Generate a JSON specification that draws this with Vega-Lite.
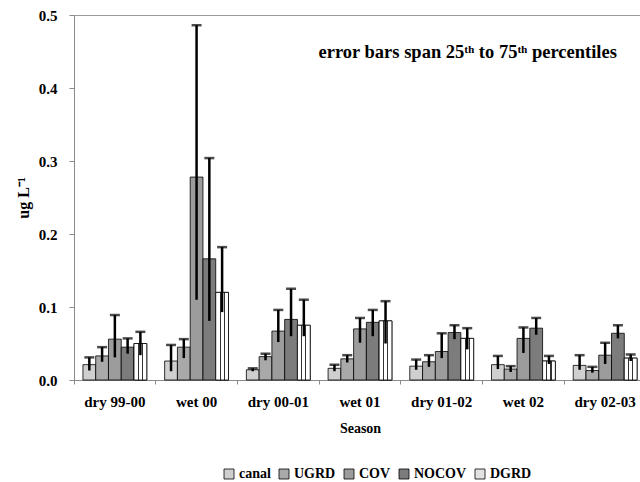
{
  "$schema": "https://vega.github.io/schema/vega-lite/v6.json",
  "width": 572,
  "height": 365,
  "padding": {"left": 15, "top": 8, "right": 0, "bottom": 0},
  "background": "white",
  "config": {
    "font": "Liberation Serif",
    "view": {"stroke": "#9a9a9a", "strokeWidth": 1},
    "axis": {
      "labelFont": "Liberation Serif",
      "titleFont": "Liberation Serif",
      "labelFontWeight": "bold",
      "titleFontWeight": "bold",
      "labelColor": "black",
      "titleColor": "black",
      "domainColor": "#8a8a8a",
      "tickColor": "#8a8a8a",
      "grid": false
    }
  },
  "datasets": {
    "vals": [
      {"season": "dry 99-00", "site": "canal", "median": 0.021, "q25": 0.013, "q75": 0.031},
      {"season": "dry 99-00", "site": "UGRD", "median": 0.033, "q25": 0.025, "q75": 0.045},
      {"season": "dry 99-00", "site": "COV", "median": 0.056, "q25": 0.031, "q75": 0.089},
      {"season": "dry 99-00", "site": "NOCOV", "median": 0.045, "q25": 0.036, "q75": 0.057},
      {"season": "dry 99-00", "site": "DGRD", "median": 0.05, "q25": 0.034, "q75": 0.066},
      {"season": "wet 00", "site": "canal", "median": 0.026, "q25": 0.012, "q75": 0.048},
      {"season": "wet 00", "site": "UGRD", "median": 0.045, "q25": 0.03, "q75": 0.056},
      {"season": "wet 00", "site": "COV", "median": 0.278, "q25": 0.11, "q75": 0.486},
      {"season": "wet 00", "site": "NOCOV", "median": 0.166, "q25": 0.081, "q75": 0.304},
      {"season": "wet 00", "site": "DGRD", "median": 0.12, "q25": 0.093, "q75": 0.182},
      {"season": "dry 00-01", "site": "canal", "median": 0.014, "q25": 0.012, "q75": 0.016},
      {"season": "dry 00-01", "site": "UGRD", "median": 0.032, "q25": 0.027, "q75": 0.036},
      {"season": "dry 00-01", "site": "COV", "median": 0.067, "q25": 0.052, "q75": 0.096},
      {"season": "dry 00-01", "site": "NOCOV", "median": 0.083, "q25": 0.06, "q75": 0.125},
      {"season": "dry 00-01", "site": "DGRD", "median": 0.075, "q25": 0.06, "q75": 0.11},
      {"season": "wet 01", "site": "canal", "median": 0.016, "q25": 0.012, "q75": 0.021},
      {"season": "wet 01", "site": "UGRD", "median": 0.029, "q25": 0.024, "q75": 0.034},
      {"season": "wet 01", "site": "COV", "median": 0.07, "q25": 0.051, "q75": 0.085},
      {"season": "wet 01", "site": "NOCOV", "median": 0.079, "q25": 0.06, "q75": 0.096},
      {"season": "wet 01", "site": "DGRD", "median": 0.081, "q25": 0.05, "q75": 0.108},
      {"season": "dry 01-02", "site": "canal", "median": 0.019, "q25": 0.014, "q75": 0.028},
      {"season": "dry 01-02", "site": "UGRD", "median": 0.025, "q25": 0.018, "q75": 0.034},
      {"season": "dry 01-02", "site": "COV", "median": 0.039, "q25": 0.03, "q75": 0.064},
      {"season": "dry 01-02", "site": "NOCOV", "median": 0.065, "q25": 0.056, "q75": 0.075},
      {"season": "dry 01-02", "site": "DGRD", "median": 0.057, "q25": 0.042, "q75": 0.071},
      {"season": "wet 02", "site": "canal", "median": 0.021, "q25": 0.015, "q75": 0.033},
      {"season": "wet 02", "site": "UGRD", "median": 0.015, "q25": 0.011, "q75": 0.019},
      {"season": "wet 02", "site": "COV", "median": 0.057, "q25": 0.037, "q75": 0.072},
      {"season": "wet 02", "site": "NOCOV", "median": 0.071, "q25": 0.062, "q75": 0.085},
      {"season": "wet 02", "site": "DGRD", "median": 0.026, "q25": 0.022, "q75": 0.033},
      {"season": "dry 02-03", "site": "canal", "median": 0.02, "q25": 0.014, "q75": 0.034},
      {"season": "dry 02-03", "site": "UGRD", "median": 0.013, "q25": 0.01, "q75": 0.018},
      {"season": "dry 02-03", "site": "COV", "median": 0.034, "q25": 0.022, "q75": 0.051},
      {"season": "dry 02-03", "site": "NOCOV", "median": 0.064, "q25": 0.057, "q75": 0.075},
      {"season": "dry 02-03", "site": "DGRD", "median": 0.03, "q25": 0.026, "q75": 0.035}
    ],
    "note": [
      {"season": "dry 01-02", "y": 0.449, "text": "error bars span 25ᵗʰ to 75ᵗʰ percentiles"}
    ]
  },
  "encoding": {
    "x": {
      "field": "season",
      "type": "nominal",
      "sort": ["dry 99-00", "wet 00", "dry 00-01", "wet 01", "dry 01-02", "wet 02", "dry 02-03"],
      "scale": {"paddingInner": 0, "paddingOuter": 0},
      "axis": {
        "title": "Season",
        "labelAngle": 0,
        "labelFontSize": 15,
        "titleFontSize": 14,
        "tickSize": 4,
        "bandPosition": 0,
        "labelPadding": 10,
        "titlePadding": 12
      }
    }
  },
  "layer": [
    {
      "data": {"name": "vals"},
      "mark": {"type": "bar", "stroke": "black", "strokeWidth": 0.8},
      "encoding": {
        "xOffset": {
          "field": "site",
          "type": "nominal",
          "sort": ["canal", "UGRD", "COV", "NOCOV", "DGRD"],
          "scale": {"paddingInner": 0, "paddingOuter": 0.7}
        },
        "y": {
          "field": "median",
          "type": "quantitative",
          "scale": {"domain": [0, 0.5], "nice": false},
          "axis": {
            "title": "ug L⁻¹",
            "values": [0, 0.1, 0.2, 0.3, 0.4, 0.5],
            "format": ".1f",
            "labelFontSize": 15,
            "titleFontSize": 16,
            "tickSize": 5,
            "labelPadding": 12,
            "titlePadding": 7
          }
        },
        "fill": {
          "field": "site",
          "type": "nominal",
          "sort": ["canal", "UGRD", "COV", "NOCOV", "DGRD"],
          "scale": {
            "domain": ["canal", "UGRD", "COV", "NOCOV", "DGRD"],
            "range": ["#cfcfcf", "#a9a9a9", "#9c9c9c", "#7c7c7c", "#e2e2e2"]
          },
          "legend": {
            "title": null,
            "orient": "none",
            "direction": "horizontal",
            "legendX": 148,
            "legendY": 452,
            "symbolType": "square",
            "symbolSize": 100,
            "symbolStrokeColor": "black",
            "symbolStrokeWidth": 0.8,
            "labelFont": "Liberation Serif",
            "labelFontWeight": "bold",
            "labelFontSize": 14,
            "labelColor": "black",
            "labelOffset": 3,
            "columnPadding": 6
          }
        }
      }
    },
    {
      "data": {"name": "vals"},
      "transform": [{"filter": "datum.site === 'DGRD'"}],
      "mark": {
        "type": "bar",
        "stroke": "black",
        "strokeWidth": 0.8,
        "fill": {
          "gradient": "linear",
          "x1": 0, "y1": 0, "x2": 1, "y2": 0,
          "stops": [
            {"offset": 0, "color": "#ffffff"},
            {"offset": 0.3, "color": "#ffffff"},
            {"offset": 0.3, "color": "#333333"},
            {"offset": 0.38, "color": "#333333"},
            {"offset": 0.38, "color": "#ffffff"},
            {"offset": 0.62, "color": "#ffffff"},
            {"offset": 0.62, "color": "#333333"},
            {"offset": 0.7, "color": "#333333"},
            {"offset": 0.7, "color": "#ffffff"},
            {"offset": 1, "color": "#ffffff"}
          ]
        }
      },
      "encoding": {
        "xOffset": {"field": "site", "type": "nominal", "sort": ["canal", "UGRD", "COV", "NOCOV", "DGRD"]},
        "y": {"field": "median", "type": "quantitative"}
      }
    },
    {
      "data": {"name": "vals"},
      "mark": {"type": "rule", "color": "black", "strokeWidth": 2.5},
      "encoding": {
        "xOffset": {"field": "site", "type": "nominal", "sort": ["canal", "UGRD", "COV", "NOCOV", "DGRD"]},
        "y": {"field": "q25", "type": "quantitative"},
        "y2": {"field": "q75"}
      }
    },
    {
      "data": {"name": "vals"},
      "mark": {"type": "tick", "color": "black", "thickness": 2.5, "size": 10, "orient": "horizontal"},
      "encoding": {
        "xOffset": {"field": "site", "type": "nominal", "sort": ["canal", "UGRD", "COV", "NOCOV", "DGRD"]},
        "y": {"field": "q75", "type": "quantitative"}
      }
    },
    {
      "data": {"name": "note"},
      "mark": {"type": "text", "font": "Liberation Serif", "fontWeight": "bold", "fontSize": 18.5, "color": "black", "align": "center", "baseline": "middle", "dx": 26},
      "encoding": {
        "y": {"field": "y", "type": "quantitative"},
        "text": {"field": "text"}
      }
    }
  ]
}
